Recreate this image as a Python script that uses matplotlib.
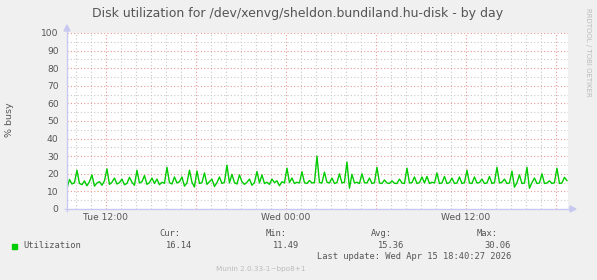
import numpy as np
import matplotlib
matplotlib.use("Agg")
import matplotlib.pyplot as plt
from matplotlib.lines import Line2D
from matplotlib.patches import Polygon, Rectangle

# ---------------- data ----------------
title = "Disk utilization for /dev/xenvg/sheldon.bundiland.hu-disk - by day"
ylabel = "% busy"
tick_hours = [0, 12, 24]                      # hours relative to Tue 12:00
tick_labels = ["Tue 12:00", "Wed 00:00", "Wed 12:00"]
start_hour = -2.583                            # Tue 09:25
step_hour = 10 / 60                            # 10-minute samples
utilization = [
    11.49, 16.8, 14.2, 15.0, 22.0, 14.5, 13.8, 16.0, 13.2, 15.5,
    19.4, 13.0, 14.8, 15.5, 13.5, 16.0, 22.8, 14.0, 15.2, 17.6,
    14.2, 15.0, 17.0, 13.8, 14.5, 18.0, 15.2, 13.5, 22.0, 14.8,
    15.5, 19.0, 14.0, 15.0, 17.6, 14.5, 17.0, 13.8, 15.2, 14.6,
    23.7, 15.0, 14.2, 18.2, 14.8, 15.5, 18.2, 13.0, 14.8, 22.0,
    15.2, 12.5, 21.6, 14.5, 15.0, 20.5, 14.0, 15.5, 17.0, 12.8,
    15.0, 18.2, 14.5, 15.2, 24.9, 14.8, 19.7, 15.0, 14.2, 19.4,
    15.5, 14.0, 15.2, 17.0, 13.5, 15.0, 21.3, 14.8, 19.4, 14.5,
    15.2, 14.0, 17.0, 15.0, 16.0, 13.2, 15.5, 14.8, 23.2, 15.0,
    17.6, 14.5, 15.2, 14.8, 21.2, 15.0, 14.5, 16.2, 14.8, 15.0,
    30.06, 15.0, 14.8, 20.9, 15.2, 14.8, 17.6, 14.5, 15.0, 20.0,
    14.8, 15.2, 26.7, 11.8, 19.7, 14.8, 15.2, 14.5, 20.0, 15.0,
    14.8, 17.6, 14.5, 15.0, 23.7, 14.8, 14.5, 16.5, 14.8, 14.5,
    16.0, 14.6, 14.5, 17.0, 14.8, 14.5, 23.2, 14.8, 15.0, 18.2,
    14.5, 15.0, 18.2, 14.8, 18.5, 14.5, 15.2, 14.8, 20.5, 14.5,
    14.8, 18.5, 14.5, 15.0, 17.6, 14.5, 14.8, 18.2, 14.5, 15.0,
    22.0, 14.8, 14.5, 18.2, 14.8, 15.0, 17.0, 14.5, 14.8, 18.5,
    14.5, 15.0, 23.7, 14.8, 15.2, 17.0, 14.5, 14.8, 21.5, 12.4,
    15.0, 19.4, 14.5, 14.8, 23.7, 11.8, 15.0, 17.6, 14.5, 14.8,
    20.0, 14.5, 14.8, 16.0, 14.5, 15.0, 23.2, 14.5, 14.8, 18.0,
    16.14,
]
legend_name = "Utilization"
stat_names = ["Cur:", "Min:", "Avg:", "Max:"]
stat_values = ["16.14", "11.49", "15.36", "30.06"]
last_update = "Last update: Wed Apr 15 18:40:27 2026"
footer = "Munin 2.0.33-1~bpo8+1"
side_text = "RRDTOOL / TOBI OETIKER"

# ---------------- figure ----------------
W, H = 597, 280
BG = "#F0F0F0"
GREEN = "#00CC00"
TXT = "#555555"
fig = plt.figure(figsize=(W / 100, H / 100), dpi=100, facecolor=BG)

L, R, T, B = 67, 568, 33, 209
ax = fig.add_axes([L / W, 1 - B / H, (R - L) / W, (B - T) / H])
ax.set_facecolor("white")
x = start_hour + step_hour * np.arange(len(utilization))
xmin, xmax = -2.58, 30.82
ax.set_xlim(xmin, xmax)
ax.set_ylim(0, 100)
for s in ax.spines.values():
    s.set_visible(False)

# grid
minor_c = "#c8c8c8"
major_c = "#e89898"
for yv in range(5, 100, 10):
    ax.axhline(yv, color=minor_c, lw=0.8, ls=(0, (1, 2)), zorder=1)
for h in np.arange(np.ceil(xmin), xmax, 1.0):
    if int(h) % 6 != 0:
        ax.axvline(h, color=minor_c, lw=0.8, ls=(0, (1, 2)), zorder=1)
for yv in range(10, 101, 10):
    ax.axhline(yv, color=major_c, lw=0.8, ls=(0, (1, 2)), zorder=2)
for h in np.arange(np.ceil(xmin), xmax, 1.0):
    if int(h) % 6 == 0:
        ax.axvline(h, color=major_c, lw=0.8, ls=(0, (1, 2)), zorder=2)

ax.plot(x, utilization, color=GREEN, lw=1.0, zorder=5)

ax.set_yticks(range(0, 101, 10))
ax.set_xticks(tick_hours)
ax.set_xticklabels(tick_labels)
ax.tick_params(axis="both", length=0, labelsize=6.6, labelcolor=TXT, pad=3)
ax.tick_params(axis="y", pad=6)

# axis lines with arrows (figure pixel coords)
axis_c = "#c8c8f0"
def fx(px):
    return px / W
def fy(py):
    return 1 - py / H
fig.add_artist(Line2D([fx(L), fx(L)], [fy(B + 2), fy(T - 3)], color=axis_c, lw=1.0))
fig.add_artist(Line2D([fx(L - 2), fx(R + 3)], [fy(B), fy(B)], color=axis_c, lw=1.0))
fig.add_artist(Polygon([[fx(L - 3), fy(T - 2)], [fx(L + 3), fy(T - 2)], [fx(L), fy(T - 8)]],
                       closed=True, color=axis_c, transform=fig.transFigure))
fig.add_artist(Polygon([[fx(R + 2), fy(B - 3)], [fx(R + 2), fy(B + 3)], [fx(R + 8), fy(B)]],
                       closed=True, color=axis_c, transform=fig.transFigure))

# texts
fig.text(fx(298), fy(14), title, ha="center", va="center", fontsize=9.0, color=TXT)
fig.text(fx(10), fy(120), ylabel, ha="center", va="center", rotation=90, fontsize=6.8, color=TXT)
fig.text(fx(588), fy(8), side_text, ha="center", va="top", rotation=270, fontsize=5.0, color="#bbbbbb")

mono = "DejaVu Sans Mono"
ms = 6.3
stat_right = [180, 287, 392, 498]
val_right = [192, 299, 404, 511]
for name, xr in zip(stat_names, stat_right):
    fig.text(fx(xr), fy(234), name, ha="right", va="center", family=mono, fontsize=ms, color=TXT)
for v, xr in zip(stat_values, val_right):
    fig.text(fx(xr), fy(245.5), v, ha="right", va="center", family=mono, fontsize=ms, color=TXT)
fig.add_artist(Rectangle((fx(12), fy(248.5)), 5 / W, 5 / H, color=GREEN, transform=fig.transFigure))
fig.text(fx(23), fy(245.5), legend_name, ha="left", va="center", family=mono, fontsize=ms, color=TXT)
fig.text(fx(511), fy(256.5), last_update, ha="right", va="center", family=mono, fontsize=ms, color=TXT)
fig.text(fx(261), fy(269), footer, ha="center", va="center", fontsize=5.2, color="#bbbbbb")

fig.savefig("out.png", dpi=100, facecolor=BG)
